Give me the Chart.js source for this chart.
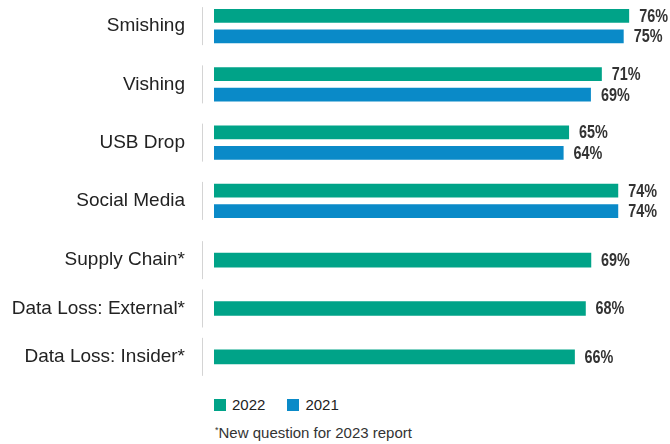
<!DOCTYPE html>
<html>
<head>
<meta charset="utf-8">
<script src="https://cdn.jsdelivr.net/npm/chart.js@4"></script>
<style>
  html, body { margin: 0; padding: 0; background: #fff; }
  body { width: 670px; height: 444px; position: relative; overflow: hidden;
         font-family: "Liberation Sans", Arial, Helvetica, sans-serif; }
  .chart-wrap { position: absolute; left: 0; width: 670px; }
  #top-wrap { top: -3px; height: 233px; }
  #bottom-wrap { top: 236px; height: 145px; }
  .legend { position: absolute; left: 214px; top: 396px; font-size: 15px; color: #222; }
  .legend span.item { display: inline-block; margin-right: 22px; }
  .legend i { display: inline-block; width: 12px; height: 12px; vertical-align: -1px; margin-right: 6px; }
  .note { position: absolute; left: 215px; top: 424px; font-size: 15px; color: #333; }
  .note sup { font-size: 9px; vertical-align: 5px; }
</style>
</head>
<body>
<div class="chart-wrap" id="top-wrap"><canvas id="chart-top"></canvas></div>
<div class="chart-wrap" id="bottom-wrap"><canvas id="chart-bottom"></canvas></div>
<div class="legend">
  <span class="item"><i style="background:#00a388"></i>2022</span><span class="item"><i style="background:#0a8ac8"></i>2021</span>
</div>
<div class="note"><sup>*</sup>New question for 2023 report</div>

<script>
// ---------------------------------------------------------------------------
// Data
// ---------------------------------------------------------------------------
const CATEGORIES = ['Smishing', 'Vishing', 'USB Drop', 'Social Media',
    'Supply Chain*', 'Data Loss: External*', 'Data Loss: Insider*'];
const VALUES_2022 = [76, 71, 65, 74, 69, 68, 66];
const VALUES_2021 = [75, 69, 64, 74, null, null, null];
const SERIES_LABELS = ['2022', '2021'];
const COLORS = { y2022: '#00a388', y2021: '#0a8ac8' };

// first four questions are compared year over year, the rest are new
const SPLIT = 4;

// ---------------------------------------------------------------------------
// Plugins
// ---------------------------------------------------------------------------
const valueLabels = {
    id: 'valueLabels',
    afterDatasetsDraw(chart) {
        const ctx = chart.ctx;
        const squeeze = 0.8; // fake a narrow bold face
        ctx.save();
        ctx.font = 'bold 18px "Liberation Sans", Arial, sans-serif';
        ctx.fillStyle = '#333';
        ctx.textAlign = 'left';
        ctx.textBaseline = 'middle';
        chart.data.datasets.forEach((ds, i) => {
            chart.getDatasetMeta(i).data.forEach((bar, j) => {
                if (ds.data[j] == null) return;
                ctx.save();
                ctx.translate(bar.x + 10, bar.y + 1);
                ctx.scale(squeeze, 1);
                ctx.fillText(ds.data[j] + '%', 0, 0);
                ctx.restore();
            });
        });
        ctx.restore();
    }
};

const separators = {
    id: 'separators',
    afterDraw(chart, args, opts) {
        const y = chart.scales.y;
        const ctx = chart.ctx;
        const x = chart.chartArea.left - 11.5;
        ctx.save();
        ctx.strokeStyle = '#d4d4d4';
        ctx.lineWidth = 1;
        chart.data.labels.forEach((l, i) => {
            const c = y.getPixelForValue(i);
            ctx.beginPath();
            ctx.moveTo(x, c - opts.half);
            ctx.lineTo(x, c + opts.half);
            ctx.stroke();
        });
        ctx.restore();
    }
};

function baseOptions(barOpts, half) {
    return {
        indexAxis: 'y',
        responsive: true,
        maintainAspectRatio: false,
        animation: false,
        layout: { padding: { left: 0, right: 19, top: 0, bottom: 0 } },
        plugins: {
            legend: { display: false },
            tooltip: { enabled: false },
            separators: { half },
        },
        datasets: { bar: barOpts },
        scales: {
            x: { display: false, min: 0, max: 80 },
            y: {
                grid: { display: false, drawTicks: false },
                border: { display: false },
                ticks: {
                    padding: 29,
                    color: '#222',
                    font: { family: '"Liberation Sans", Arial, sans-serif', size: 19 },
                },
                afterFit: (scale) => {
                    scale.width = 214;
                    // tick padding also pads the ends of a vertical axis; drop that
                    scale.paddingTop = 0;
                    scale.paddingBottom = 0;
                },
            },
        },
    };
}

// ---------------------------------------------------------------------------
// Charts
// ---------------------------------------------------------------------------
new Chart(document.getElementById('chart-top'), {
    type: 'bar',
    data: {
        labels: CATEGORIES.slice(0, SPLIT),
        datasets: [
            { label: SERIES_LABELS[0], data: VALUES_2022.slice(0, SPLIT), backgroundColor: COLORS.y2022 },
            { label: SERIES_LABELS[1], data: VALUES_2021.slice(0, SPLIT), backgroundColor: COLORS.y2021 },
        ],
    },
    options: baseOptions({ categoryPercentage: 0.704, barPercentage: 0.68 }, 19),
    plugins: [valueLabels, separators],
});

new Chart(document.getElementById('chart-bottom'), {
    type: 'bar',
    data: {
        labels: CATEGORIES.slice(SPLIT),
        datasets: [
            { label: SERIES_LABELS[0], data: VALUES_2022.slice(SPLIT), backgroundColor: COLORS.y2022 },
        ],
    },
    options: baseOptions({ barThickness: 14 }, 19),
    plugins: [valueLabels, separators],
});
</script>
</body>
</html>
